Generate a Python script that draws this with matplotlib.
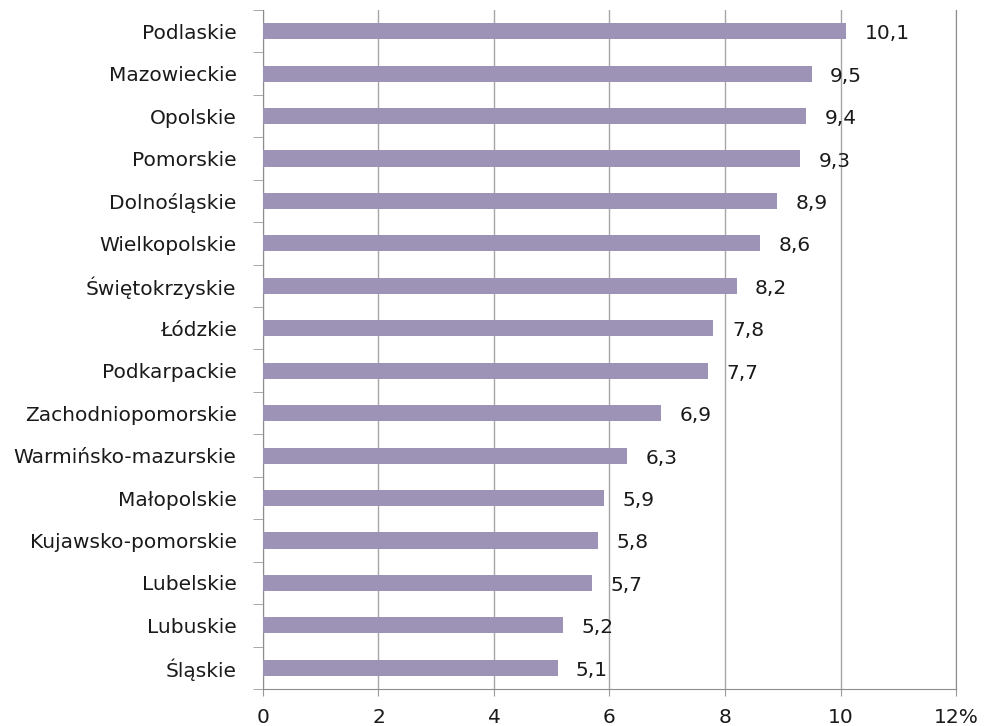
import matplotlib.pyplot as plt
from matplotlib.ticker import FixedLocator

plt.rcParams['font.family'] = ['DejaVu Sans']

# województwa (od góry) i wartości w %
regiony = ["Podlaskie", "Mazowieckie", "Opolskie", "Pomorskie", "Dolnośląskie",
           "Wielkopolskie", "Świętokrzyskie", "Łódzkie", "Podkarpackie",
           "Zachodniopomorskie", "Warmińsko-mazurskie", "Małopolskie",
           "Kujawsko-pomorskie", "Lubelskie", "Lubuskie", "Śląskie"]
wartosci = [10.1, 9.5, 9.4, 9.3, 8.9, 8.6, 8.2, 7.8, 7.7, 6.9, 6.3, 5.9, 5.8, 5.7, 5.2, 5.1]
x_ticks = [0, 2, 4, 6, 8, 10, 12]
x_labels = ["0", "2", "4", "6", "8", "10", "12%"]

fig = plt.figure(figsize=(9.86, 7.26), dpi=100)
ax = fig.add_axes([0.2667, 0.051, 0.7029, 0.9352])

pos = list(range(len(regiony)))
ax.barh(pos, wartosci, height=0.38, color="#9d93b7", zorder=3)

for p, v in zip(pos, wartosci):
    ax.text(v + 0.32, p + 0.06, f"{v:.1f}".replace(".", ","), va="center", ha="left",
            fontsize=14.5, color="#1a1a1a", zorder=4)

ax.set_ylim(len(regiony) - 0.5, -0.5)
ax.set_xlim(0, 12)
ax.set_yticks(pos)
ax.set_yticklabels(regiony, fontsize=14.5, color="#1a1a1a")
ax.tick_params(axis="y", which="major", length=0, pad=19)
ax.yaxis.set_minor_locator(FixedLocator([i - 0.5 for i in range(len(regiony) + 1)]))
ax.tick_params(axis="y", which="minor", length=7, color="#999999", direction="out")

ax.set_xticks(x_ticks)
ax.set_xticklabels(x_labels, fontsize=14.5, color="#1a1a1a")
ax.tick_params(axis="x", length=5, color="#999999", pad=9)

ax.grid(axis="x", color="#a6a6a6", linewidth=1, zorder=0)
ax.spines["top"].set_visible(False)
for s in ["left", "bottom", "right"]:
    ax.spines[s].set_color("#8c8c8c")

fig.savefig("out.png", dpi=100)
